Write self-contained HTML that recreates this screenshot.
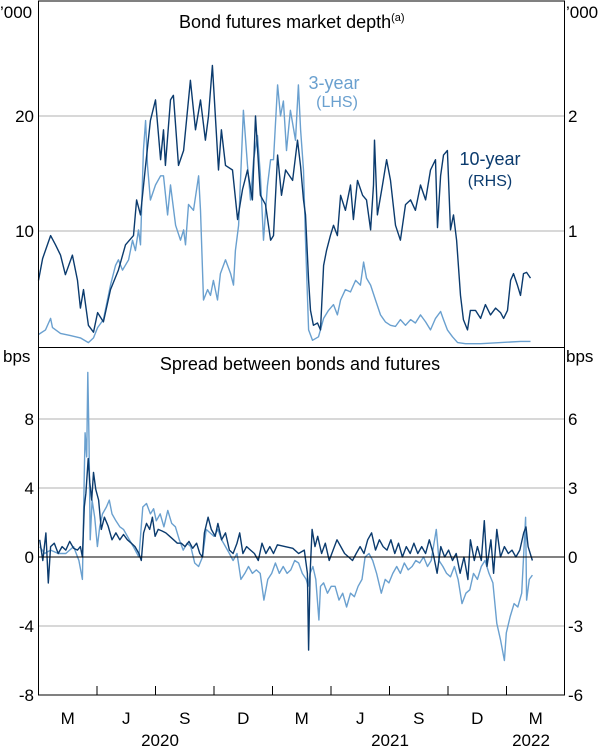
<!DOCTYPE html>
<html><head><meta charset="utf-8">
<style>
body{margin:0;background:#fff;}
svg{display:block;font-family:"Liberation Sans",Arial,sans-serif;}
</style></head>
<body>
<svg id="chart" width="601" height="747" viewBox="0 0 601 747"></svg>
<script>
// ---- data (time = months since 1 Feb 2020) ----
const tDepth10 = [0,.21,.62,.87,1.13,1.38,1.74,2.0,2.15,2.31,2.56,2.82,3.03,3.33,3.69,4.1,4.46,4.87,5.03,5.23,5.49,5.74,6.0,6.26,6.41,6.51,6.77,6.92,7.18,7.44,7.79,8.05,8.31,8.56,8.72,8.92,9.23,9.38,9.59,9.95,10.21,10.46,10.72,10.97,11.13,11.38,11.64,11.9,12.05,12.26,12.46,12.67,13.03,13.28,13.44,13.59,13.69,13.85,13.95,14.1,14.31,14.46,14.62,14.77,14.97,15.13,15.33,15.49,15.74,16.0,16.15,16.36,16.62,16.82,17.03,17.18,17.23,17.38,17.64,17.85,18.05,18.31,18.56,18.82,19.08,19.33,19.59,19.85,20.1,20.36,20.46,20.62,20.77,20.97,21.13,21.28,21.44,21.64,21.79,22.0,22.15,22.41,22.67,22.92,23.18,23.44,23.69,23.85,24.05,24.21,24.36,24.56,24.72,24.87,25.03,25.23];
const depth10 = [.57,.76,.96,.88,.79,.62,.79,.57,.33,.49,.18,.12,.29,.21,.49,.66,.88,.96,1.27,1.14,1.57,1.96,2.14,1.62,1.88,1.57,2.14,2.18,1.57,1.7,2.31,1.88,2.14,1.79,2.0,2.44,1.53,1.88,1.57,1.53,1.1,1.36,1.53,1.27,2.0,1.31,1.23,.92,.96,1.66,1.31,1.53,1.44,1.79,1.56,1.27,1.14,.57,.31,.18,.2,.14,.7,.83,.96,1.05,.96,1.31,1.18,1.4,1.1,1.44,1.31,1.27,1.01,1.4,1.79,1.14,1.4,1.62,1.44,1.05,.92,1.23,1.27,1.18,1.4,1.27,1.53,1.62,1.03,1.48,1.66,1.7,1.01,1.14,.92,.44,.23,.14,.31,.31,.24,.36,.27,.33,.29,.24,.31,.57,.63,.53,.44,.63,.64,.59];
const tDepth3 = [0,.36,.62,.72,1.13,1.64,2.15,2.56,2.82,3.03,3.33,3.69,3.95,4.10,4.31,4.62,4.82,4.97,5.13,5.23,5.38,5.49,5.59,5.74,6.00,6.26,6.41,6.62,6.77,7.03,7.28,7.44,7.54,7.69,7.95,8.21,8.31,8.46,8.67,8.82,8.97,9.18,9.33,9.59,9.85,10.00,10.10,10.26,10.36,10.51,10.72,10.87,11.03,11.23,11.38,11.54,11.74,11.90,12.05,12.26,12.41,12.56,12.72,12.92,13.18,13.33,13.44,13.59,13.69,13.85,14.05,14.36,14.62,14.87,15.13,15.33,15.49,15.74,16.00,16.26,16.51,16.67,16.82,17.03,17.28,17.54,17.79,18.05,18.31,18.56,18.82,19.08,19.33,19.59,19.85,20.10,20.36,20.62,20.77,20.97,21.23,21.49,21.90,22.67,23.69,24.21,24.72,25.23];
const depth3 = [1,1.4,2.4,1.6,1.1,.9,.7,.3,.7,1.6,2.3,5.3,7,7.5,6.6,7.5,9.2,8.3,10.1,8.8,17,19.6,15.7,12.7,14,14.8,14.8,11.4,14,10.5,9.2,10.1,8.8,12.3,11.8,14.8,11.8,4,4.9,4.4,5.7,4,6.3,7.5,6.3,5.3,8.3,10.5,14.4,20.5,15.7,12.7,16.2,18.3,14.8,9.2,13.9,16.2,16.2,22.7,20,21.3,17,20.5,17.9,22.7,18.8,15.3,9.2,1.4,.5,.8,2.4,3.1,3.6,2.7,4,4.9,4.7,5.7,5.3,7.3,5.9,5.3,4,2.7,2.1,1.8,1.7,2.3,1.8,2.3,2,2.7,2.1,1.4,2.4,3,2.3,1.4,.8,.3,.2,.2,.3,.35,.4,.4];
const tSpread10 = [.06,.22,.38,.50,.62,.81,1.01,1.21,1.40,1.60,1.80,2.00,2.15,2.25,2.35,2.43,2.55,2.63,2.73,2.82,2.94,3.08,3.22,3.38,3.57,3.77,3.97,4.17,4.36,4.56,4.76,4.95,5.15,5.27,5.39,5.54,5.70,5.84,5.98,6.14,6.34,6.53,6.73,6.93,7.12,7.32,7.52,7.72,7.91,8.11,8.27,8.41,8.51,8.70,8.86,9.06,9.20,9.39,9.59,9.79,9.98,10.18,10.32,10.48,10.67,10.87,11.07,11.27,11.46,11.66,11.86,12.05,12.25,12.64,13.04,13.34,13.63,13.79,13.85,13.93,14.03,14.18,14.32,14.52,14.71,14.91,15.11,15.31,15.50,15.70,15.90,16.10,16.29,16.49,16.69,16.88,17.08,17.28,17.48,17.67,17.87,18.07,18.27,18.46,18.66,18.86,19.06,19.25,19.45,19.65,19.85,20.04,20.24,20.44,20.63,20.83,21.03,21.23,21.42,21.62,21.82,22.02,22.15,22.35,22.51,22.71,22.86,23.00,23.20,23.34,23.50,23.69,23.89,24.09,24.28,24.48,24.68,24.88,25.00,25.11,25.27,25.33];
const spread10 = [.75,-.15,1.05,-1.13,.45,.6,.15,.45,.3,.68,.38,.3,.45,0,2.18,2.78,4.28,3.23,2.48,3.68,2.93,2.48,1.2,1.73,1.35,.75,1.05,.75,.98,.75,.6,.45,.15,-.15,1.05,1.46,1.2,1.73,.9,1.2,1.13,1.05,.9,.75,.6,.6,.45,.68,.38,.6,.15,0,1.05,1.73,1.2,.9,1.46,.75,1.05,.3,.15,.6,1.05,.15,.45,.3,.15,-.15,.6,.15,.45,.15,.53,.45,.38,.15,.3,-.71,-4.05,-.71,1.2,.45,.9,.15,.6,-.15,.3,.75,.45,.15,0,-.15,.15,.45,.15,.75,1.05,.3,.75,.45,.3,.75,.15,.6,0,.45,.15,.6,.15,.45,.15,.75,.15,-.71,.45,0,.3,-.15,.15,-.71,0,-.98,.75,-.15,.45,-.15,1.58,-.41,.75,-.71,1.2,0,.45,.15,.3,0,.3,1.05,1.31,.45,0,-.15];
const tSpread3 = [.06,.32,.62,1.01,1.40,1.80,2.07,2.25,2.35,2.39,2.47,2.53,2.59,2.65,2.75,2.88,3.02,3.14,3.28,3.48,3.63,3.77,3.97,4.17,4.36,4.56,4.86,5.15,5.35,5.54,5.74,5.90,6.04,6.24,6.43,6.63,6.83,7.02,7.22,7.42,7.62,7.81,8.01,8.21,8.41,8.60,8.80,9.00,9.20,9.39,9.59,9.79,9.98,10.18,10.38,10.58,10.77,10.97,11.17,11.37,11.56,11.76,11.96,12.15,12.35,12.55,12.75,12.94,13.14,13.34,13.53,13.73,13.83,13.93,14.07,14.22,14.38,14.46,14.62,14.82,15.01,15.21,15.41,15.60,15.80,16.00,16.20,16.39,16.59,16.75,16.95,17.14,17.34,17.58,17.78,17.97,18.17,18.37,18.56,18.76,18.96,19.16,19.35,19.55,19.75,19.95,20.14,20.40,20.54,20.74,20.93,21.13,21.33,21.52,21.72,21.92,22.12,22.31,22.51,22.71,22.90,23.10,23.30,23.50,23.69,23.89,23.99,24.19,24.39,24.58,24.78,24.98,25.03,25.17,25.33];
const spread3 = [.6,.2,.4,.2,.2,.6,-.2,-1.3,4.85,7.2,5.8,10.7,6.8,1,3.3,2.3,.6,1.75,2.5,2.9,3.3,2.5,2.1,1.75,1.6,1.2,.6,0,2.9,3.1,2.5,2.8,2.1,2.5,1.75,2.7,1.95,1.75,1,.4,.8,.6,-.35,-.55,0,1.6,1.4,1.2,1.6,1,.6,.2,-.2,.2,-1.3,-.95,-.55,-.95,-.75,-.95,-2.5,-1.3,-.95,-.35,-.95,-.55,-.95,-.75,-.2,-.35,-.95,-1.3,-1.7,-.95,-.55,-1.3,-3.65,-1.7,-1.5,-2.1,-1.7,-1.7,-2.5,-2.1,-2.9,-2.1,-2.3,-1.7,-1.3,0,.2,-.2,-.95,-2.1,-1.3,-1.5,-.95,-.55,-.95,-.35,-.75,-.55,-.2,-.35,0,-.55,-.2,1.6,-.2,-.55,-.95,-1.15,-.55,-1.3,-2.7,-2.1,-1.9,-.95,-1.3,-.55,-.2,-.95,-1.5,-3.85,-4.8,-6,-4.4,-3.45,-2.7,-2.9,-2.1,2.3,-2.5,-1.3,-1.05];
const topLeftTicks = [10,20];
const topRightTicks = [1,2];
const botLeftTicks = [-8,-4,0,4,8];
const botRightTicks = [-6,-3,0,3,6];
const monthLabels = ['M','J','S','D','M','J','S','D','M'];
const yearLabels = [['2020',160],['2021',390],['2022',531]];

// ---- scales ----
const X0=38.5, X1=564.5, MW=19.5;
const x = t => X0 + t*MW;
const yTopL = v => 346 - v*11.5;
const yTopR = v => 346 - v*115;
const yBotL = v => 557 - v*17.25;
const yBotR = v => 557 - v*23;
const DARK='#0b3b6e', LIGHT='#6aa0cf';
const svg=document.getElementById('chart');
const NS='http://www.w3.org/2000/svg';
function mk(tag,attrs,parent){const e=document.createElementNS(NS,tag);for(const k in attrs)e.setAttribute(k,attrs[k]);(parent||svg).appendChild(e);return e;}
function txt(s,xx,yy,anchor,size,fill){const e=mk('text',{x:xx,y:yy,'text-anchor':anchor,'font-size':size,fill:fill||'#000'});e.textContent=s;return e;}

topLeftTicks.forEach(v=>{const g=mk('line',{x1:X0,x2:X1,y1:yTopL(v),y2:yTopL(v),stroke:'#b0b0b0','stroke-width':1});

});
botLeftTicks.forEach(v=>{if(v===0||v===-8)return;const g=mk('line',{x1:X0,x2:X1,y1:yBotL(v),y2:yBotL(v),stroke:'#b0b0b0','stroke-width':1});

});

function line(ts,vs,ys,color,name){
  const d=ts.map((t,i)=>(i?'L':'M')+x(t).toFixed(1)+','+ys(vs[i]).toFixed(1)).join('');
  const p=mk('path',{d:d,fill:'none',stroke:color,'stroke-width':1.4,'stroke-linejoin':'round'});
  
  
}
line(tDepth3,depth3,yTopL,LIGHT,'depth-3-year-line');
line(tDepth10,depth10,yTopR,DARK,'depth-10-year-line');
line(tSpread3,spread3,yBotL,LIGHT,'spread-3-year-line');
line(tSpread10,spread10,yBotR,DARK,'spread-10-year-line');

const z=mk('line',{x1:X0,x2:X1,y1:yBotL(0),y2:yBotL(0),stroke:'#000','stroke-width':1});



const f=mk('rect',{x:X0,y:1,width:X1-X0,height:694,fill:'none',stroke:'#000','stroke-width':1});


const dv=mk('line',{x1:X0,x2:X1,y1:347.5,y2:347.5,stroke:'#000','stroke-width':1});



for(let q=1;q<9;q++){const tx=x(q*3);const tk=mk('line',{x1:tx,x2:tx,y1:695,y2:686,stroke:'#000','stroke-width':1});

}
monthLabels.forEach((m,i)=>{const e=txt(m,x(i*3+1.5),724,'middle',17);

});
yearLabels.forEach(([s,xx])=>{const e=txt(s,xx,746,'middle',17);

});

topLeftTicks.forEach(v=>{const e=txt(String(v),34,yTopL(v)+6,'end',17);

});
topRightTicks.forEach(v=>{const e=txt(String(v),568,yTopR(v)+6,'start',17);

});
botLeftTicks.forEach(v=>{const e=txt(String(v),34,yBotL(v)+6,'end',17);

});
botRightTicks.forEach(v=>{const e=txt(String(v),568,yBotR(v)+6,'start',17);

});
</script>
<script>
(function(){
const svg=document.getElementById('chart');const NS='http://www.w3.org/2000/svg';
function t(s,x,y,a,sz,fill,name){const e=document.createElementNS(NS,'text');e.setAttribute('x',x);e.setAttribute('y',y);e.setAttribute('text-anchor',a);e.setAttribute('font-size',sz);e.setAttribute('fill',fill);e.textContent=s;


svg.appendChild(e);return e;}
t("’000",0,18,'start',17,'#000','left-unit-label');
t("’000",566,18,'start',17,'#000','right-unit-label');
t("bps",3,362,'start',17,'#000','left-bps-label');
t("bps",566,362,'start',17,'#000','right-bps-label');
const title=t("Bond futures market depth",179,28,'start',18,'#000','top-panel-title');
const sup=document.createElementNS(NS,'tspan');sup.setAttribute('font-size',11);sup.setAttribute('dy',-7);sup.textContent='(a)';title.appendChild(sup);
t("Spread between bonds and futures",300,370,'middle',18,'#000','bottom-panel-title');
t("3-year",334,89,'middle',18,'#6aa0cf','legend-3-year');
t("(LHS)",337,107,'middle',16,'#6aa0cf','legend-3-year-axis');
t("10-year",490,165,'middle',18,'#0b3b6e','legend-10-year');
t("(RHS)",490,186,'middle',16,'#0b3b6e','legend-10-year-axis');
})();
</script>
</body></html>
